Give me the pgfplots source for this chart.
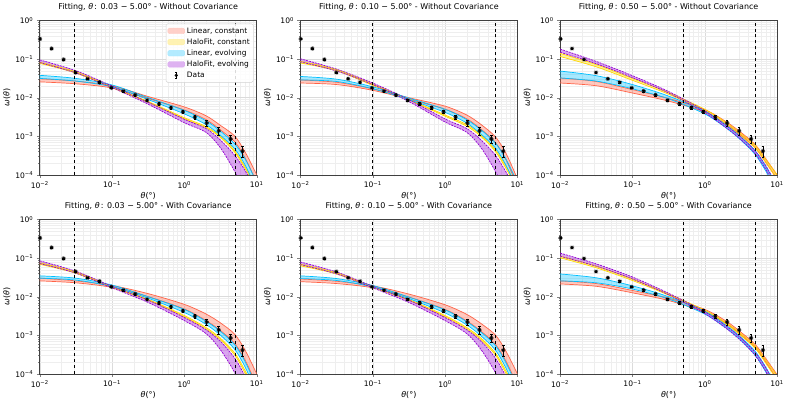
\documentclass[border=0pt]{standalone}
\usepackage{fontspec}
\setmainfont{DejaVu Sans}
\usepackage{pgfplots}
\usepackage{pgfplotstable}
\pgfplotsset{compat=1.18}
\usepgfplotslibrary{fillbetween}

\definecolor{lcE}{HTML}{FF6347}
\definecolor{hcE}{HTML}{FFD700}
\definecolor{leE}{HTML}{00BFFF}
\definecolor{heE}{HTML}{9400D3}
\definecolor{lcF}{RGB}{255,200,191}
\definecolor{hcF}{RGB}{255,241,166}
\definecolor{leF}{RGB}{166,233,255}
\definecolor{heF}{RGB}{217,166,240}

% measured points (same in every panel)
\pgfplotstableread{
x       y        e
0.0101  0.335    0.010
0.0146  0.188    0.006
0.0214  0.098    0.004
0.0313  0.045    0.002
0.0457  0.031    0.0015
0.0668  0.025    0.0012
0.0977  0.018    0.0009
0.143   0.0148   0.0008
0.209   0.0118   0.0007
0.305   0.0085   0.0006
0.447   0.0069   0.0005
0.653   0.0055   0.0005
0.955   0.0043   0.0004
1.40    0.0031   0.0004
2.04    0.0022   0.0004
2.99    0.00138  0.0003
4.37    0.00085  0.0002
6.38    0.00041  0.00013
}\ptsdata

% model bands: r = linear const, y = halofit const, b = linear evol, p = halofit evol (u/l = upper/lower)
\pgfplotstableread{
x      ru        rl        bu        bl        yu        yl        pu        pl
0.01   0.0309    0.0257    0.0380    0.0316    0.0832    0.0776    0.0955    0.0813
0.0316 0.0269    0.0229    0.0316    0.0269    0.0468    0.0437    0.0501    0.0437
0.1    0.0204    0.0178    0.0214    0.0191    0.0191    0.0182    0.0200    0.0182
0.316  0.0107    0.00955   0.0100    0.00891   0.00794   0.00759   0.00759   0.00676
1      0.00575   0.00479   0.00468   0.00380   0.00302   0.00282   0.00275   0.00224
2      0.00339   0.00269   0.00251   0.00200   0.00178   0.00166   0.00158   0.00126
3.16   0.00191   0.00145   0.00135   0.00105   0.00100   0.000933  0.000794  0.000500
5      0.00100   0.000708  0.000631  0.000468  0.000417  0.000380  0.000316  0.000120
7.08   0.000363  0.000251  0.000240  0.000166  0.000151  0.000135  0.000120  0.0000300
10     0.000100  0.0000631 0.0000631 0.0000398 0.0000501 0.0000447 0.0000355 0.0000063
}\tabA
\pgfplotstableread{
x      ru        rl        bu        bl        yu        yl        pu        pl
0.01   0.0288    0.0240    0.0355    0.0288    0.0871    0.0794    0.102     0.0851
0.0316 0.0251    0.0219    0.0302    0.0263    0.0537    0.0501    0.0550    0.0490
0.1    0.0170    0.0155    0.0191    0.0170    0.0224    0.0209    0.0240    0.0219
0.316  0.0100    0.00912   0.00977   0.00891   0.00912   0.00871   0.00891   0.00794
1      0.00603   0.00501   0.00501   0.00417   0.00355   0.00331   0.00282   0.00234
2      0.00355   0.00282   0.00269   0.00219   0.00200   0.00182   0.00158   0.00126
3.16   0.00200   0.00151   0.00145   0.00112   0.00107   0.000977  0.000794  0.000500
5      0.000955  0.000676  0.000661  0.000490  0.000447  0.000398  0.000316  0.000120
7.08   0.000339  0.000229  0.000240  0.000166  0.000158  0.000138  0.000112  0.0000300
10     0.0000794 0.0000501 0.0000631 0.0000398 0.0000501 0.0000447 0.0000316 0.0000063
}\tabB
\pgfplotstableread{
x      ru        rl        bu        bl        yu        yl        pu        pl
0.01   0.0324    0.0240    0.0490    0.0324    0.141     0.117     0.182     0.151
0.0316 0.0263    0.0204    0.0372    0.0269    0.0724    0.0631    0.0871    0.0759
0.1    0.0162    0.0132    0.0219    0.0170    0.0316    0.0282    0.0372    0.0331
0.316  0.00955   0.00813   0.0110    0.00933   0.0135    0.0123    0.0145    0.0132
1      0.00490   0.00427   0.00447   0.00380   0.00501   0.00457   0.00457   0.00407
2      0.00234   0.00204   0.00191   0.00162   0.00224   0.00200   0.00186   0.00162
3.16   0.00126   0.00107   0.000955  0.000794  0.00117   0.00102   0.000955  0.000813
5      0.000603  0.000501  0.000417  0.000331  0.000575  0.000490  0.000417  0.000347
7.08   0.000251  0.000204  0.000158  0.000120  0.000240  0.000200  0.000166  0.000132
10     0.000100  0.0000759 0.0000501 0.0000355 0.000100  0.0000794 0.0000501 0.0000355
}\tabC
\pgfplotstableread{
x      ru        rl        bu        bl        yu        yl        pu        pl
0.01   0.0302    0.0257    0.0347    0.0302    0.0759    0.0692    0.0851    0.0724
0.0316 0.0257    0.0229    0.0302    0.0269    0.0437    0.0407    0.0457    0.0407
0.1    0.0195    0.0174    0.0200    0.0182    0.0182    0.0174    0.0186    0.0170
0.316  0.0120    0.0100    0.0100    0.00912   0.00851   0.00813   0.00813   0.00708
1      0.00631   0.00479   0.00468   0.00389   0.00324   0.00302   0.00288   0.00240
2      0.00355   0.00240   0.00229   0.00191   0.00158   0.00145   0.00138   0.00110
3.16   0.00209   0.00132   0.00126   0.00100   0.000832  0.000759  0.000692  0.000420
5      0.00105   0.000603  0.000562  0.000427  0.000339  0.000302  0.000251  0.000105
7.08   0.000380  0.000209  0.000191  0.000138  0.000112  0.0000955 0.0000794 0.0000250
10     0.000100  0.0000501 0.0000447 0.0000316 0.0000316 0.0000251 0.0000200 0.0000050
}\tabD
\pgfplotstableread{
x      ru        rl        bu        bl        yu        yl        pu        pl
0.01   0.0288    0.0245    0.0347    0.0295    0.0692    0.0631    0.0794    0.0676
0.0316 0.0251    0.0219    0.0295    0.0263    0.0417    0.0389    0.0437    0.0389
0.1    0.0191    0.0170    0.0195    0.0178    0.0182    0.0174    0.0186    0.0170
0.316  0.0117    0.00977   0.00977   0.00891   0.00851   0.00813   0.00813   0.00708
1      0.00617   0.00468   0.00457   0.00380   0.00324   0.00302   0.00288   0.00240
2      0.00347   0.00234   0.00224   0.00186   0.00158   0.00145   0.00138   0.00110
3.16   0.00200   0.00126   0.00120   0.000955  0.000832  0.000759  0.000692  0.000420
5      0.00100   0.000575  0.000537  0.000407  0.000339  0.000302  0.000251  0.000105
7.08   0.000363  0.000200  0.000182  0.000132  0.000112  0.0000955 0.0000794 0.0000250
10     0.000100  0.0000501 0.0000447 0.0000316 0.0000316 0.0000251 0.0000200 0.0000050
}\tabE
\pgfplotstableread{
x      ru        rl        bu        bl        yu        yl        pu        pl
0.01   0.0257    0.0214    0.0389    0.0257    0.112     0.102     0.135     0.112
0.0316 0.0219    0.0186    0.0309    0.0229    0.0617    0.0562    0.0708    0.0617
0.1    0.0145    0.0126    0.0191    0.0158    0.0288    0.0263    0.0324    0.0288
0.316  0.00912   0.00794   0.0100    0.00871   0.0117    0.0110    0.0123    0.0112
1      0.00468   0.00407   0.00417   0.00355   0.00447   0.00417   0.00407   0.00363
2      0.00229   0.00200   0.00178   0.00151   0.00209   0.00191   0.00170   0.00148
3.16   0.00120   0.00102   0.000891  0.000741  0.00110   0.000977  0.000851  0.000724
5      0.000575  0.000479  0.000380  0.000302  0.000525  0.000457  0.000355  0.000295
7.08   0.000240  0.000195  0.000141  0.000107  0.000219  0.000182  0.000138  0.000110
10     0.0000955 0.0000724 0.0000447 0.0000316 0.0000891 0.0000708 0.0000398 0.0000282
}\tabF

\pgfplotsset{every axis/.append style={
    anchor=south west, scale only axis, width=218pt, height=155pt,
    xmin=0.01, xmax=10, ymin=1e-4, ymax=1,
    xtick={0.01,0.1,1,10},
    xticklabels={10\textsuperscript{−2},10\textsuperscript{−1},10\textsuperscript{0},10\textsuperscript{1}},
    ytick={1e-4,1e-3,1e-2,1e-1,1},
    yticklabels={10\textsuperscript{−4},10\textsuperscript{−3},10\textsuperscript{−2},10\textsuperscript{−1},10\textsuperscript{0}},
    minor xtick={0.02,0.03,0.04,0.05,0.06,0.07,0.08,0.09,0.2,0.3,0.4,0.5,0.6,0.7,0.8,0.9,2,3,4,5,6,7,8,9},
    minor ytick={2e-4,3e-4,4e-4,5e-4,6e-4,7e-4,8e-4,9e-4,2e-3,3e-3,4e-3,5e-3,6e-3,7e-3,8e-3,9e-3,0.02,0.03,0.04,0.05,0.06,0.07,0.08,0.09,0.2,0.3,0.4,0.5,0.6,0.7,0.8,0.9},
    grid=both,
    major grid style={gray!28, line width=0.4pt},
    minor grid style={gray!13, line width=0.3pt},
    tick align=outside, tick pos=left,
    major tick length=3pt, minor tick length=1.6pt,
    axis line style={gray!50!black, line width=0.5pt},
    tick label style={font=\fontsize{7.6}{8}\selectfont},
    title style={font=\fontsize{8}{9}\selectfont},
    label style={font=\fontsize{8}{9}\selectfont},
    xlabel={\textit{θ}(°)}, ylabel={\textit{ω}(\textit{θ})},
    xlabel style={yshift=3pt}, ylabel style={yshift=-2pt},
    legend style={at={(0.985,0.98)}, anchor=north east, draw=gray!35,
      rounded corners=1.5pt, fill=white, fill opacity=0.85, text opacity=1,
      font=\fontsize{7.5}{9}\selectfont, inner sep=1.5pt, row sep=0pt},
    legend cell align=left,
}}

\newcommand{\bands}[1]{%
  \addplot[lcE, line width=0.7pt, smooth, forget plot, name path=ru] table[x=x, y=ru]{#1};
  \addplot[lcE, line width=0.7pt, smooth, forget plot, name path=rl] table[x=x, y=rl]{#1};
  \addplot[lcE, fill opacity=0.35, draw=none, forget plot] fill between[of=ru and rl];
  \addplot[hcE, line width=0.7pt, smooth, forget plot, name path=yu] table[x=x, y=yu]{#1};
  \addplot[hcE, line width=0.7pt, smooth, forget plot, name path=yl] table[x=x, y=yl]{#1};
  \addplot[hcE, fill opacity=0.35, draw=none, forget plot] fill between[of=yu and yl];
  \addplot[leE, line width=0.7pt, smooth, forget plot, name path=bu] table[x=x, y=bu]{#1};
  \addplot[leE, line width=0.7pt, smooth, forget plot, name path=bl] table[x=x, y=bl]{#1};
  \addplot[leE, fill opacity=0.35, draw=none, forget plot] fill between[of=bu and bl];
  \addplot[heE, line width=0.7pt, smooth, dash pattern=on 2pt off 1pt, forget plot, name path=pu] table[x=x, y=pu]{#1};
  \addplot[heE, line width=0.7pt, smooth, dash pattern=on 2pt off 1pt, forget plot, name path=pl] table[x=x, y=pl]{#1};
  \addplot[heE, fill opacity=0.35, draw=none, forget plot] fill between[of=pu and pl];
  \addplot[black, dashed, line width=0.6pt, forget plot] coordinates {(5,1e-4) (5,1)};
  \addplot[only marks, black, mark=10-pointed star, mark size=2.2pt, forget plot,
    error bars/.cd, y dir=both, y explicit,
    error bar style={black, line width=0.5pt},
    error mark options={rotate=90, black, mark size=1.3pt, line width=0.5pt}]
    table[x=x, y=y, y error=e]{\ptsdata};
}

\begin{document}
\begin{tikzpicture}

\begin{loglogaxis}[at={(36pt,225pt)},
  title={Fitting, \textit{θ}\thinspace: 0.03 − 5.00° - Without Covariance}]
  \bands{\tabA}
  \addplot[black, dashed, line width=0.6pt, forget plot] coordinates {(0.03,1e-4) (0.03,1)};
  \addlegendimage{legend image code/.code={\fill[lcF] (0cm,-0.1cm) rectangle (0.6cm,0.1cm);}}
  \addlegendentry{Linear, constant}
  \addlegendimage{legend image code/.code={\fill[hcF] (0cm,-0.1cm) rectangle (0.6cm,0.1cm);}}
  \addlegendentry{HaloFit, constant}
  \addlegendimage{legend image code/.code={\fill[leF] (0cm,-0.1cm) rectangle (0.6cm,0.1cm);}}
  \addlegendentry{Linear, evolving}
  \addlegendimage{legend image code/.code={\fill[heF] (0cm,-0.1cm) rectangle (0.6cm,0.1cm);}}
  \addlegendentry{HaloFit, evolving}
  \addlegendimage{legend image code/.code={%
    \draw[black, line width=0.5pt] (0.3cm,-0.11cm) -- (0.3cm,0.11cm)
      (0.27cm,-0.11cm) -- (0.33cm,-0.11cm) (0.27cm,0.11cm) -- (0.33cm,0.11cm);
    \fill[black] (0.3cm,0cm) circle (1.4pt);}}
  \addlegendentry{Data}
\end{loglogaxis}

\begin{loglogaxis}[at={(298pt,225pt)},
  title={Fitting, \textit{θ}\thinspace: 0.10 − 5.00° - Without Covariance}]
  \bands{\tabB}
  \addplot[black, dashed, line width=0.6pt, forget plot] coordinates {(0.1,1e-4) (0.1,1)};
\end{loglogaxis}

\begin{loglogaxis}[at={(559pt,225pt)},
  title={Fitting, \textit{θ}\thinspace: 0.50 − 5.00° - Without Covariance}]
  \bands{\tabC}
  \addplot[black, dashed, line width=0.6pt, forget plot] coordinates {(0.5,1e-4) (0.5,1)};
\end{loglogaxis}

\begin{loglogaxis}[at={(36pt,25pt)},
  title={Fitting, \textit{θ}\thinspace: 0.03 − 5.00° - With Covariance}]
  \bands{\tabD}
  \addplot[black, dashed, line width=0.6pt, forget plot] coordinates {(0.03,1e-4) (0.03,1)};
\end{loglogaxis}

\begin{loglogaxis}[at={(298pt,25pt)},
  title={Fitting, \textit{θ}\thinspace: 0.10 − 5.00° - With Covariance}]
  \bands{\tabE}
  \addplot[black, dashed, line width=0.6pt, forget plot] coordinates {(0.1,1e-4) (0.1,1)};
\end{loglogaxis}

\begin{loglogaxis}[at={(559pt,25pt)},
  title={Fitting, \textit{θ}\thinspace: 0.50 − 5.00° - With Covariance}]
  \bands{\tabF}
  \addplot[black, dashed, line width=0.6pt, forget plot] coordinates {(0.5,1e-4) (0.5,1)};
\end{loglogaxis}

\path (0pt,0pt) rectangle (789pt,393pt);
\end{tikzpicture}
\end{document}
